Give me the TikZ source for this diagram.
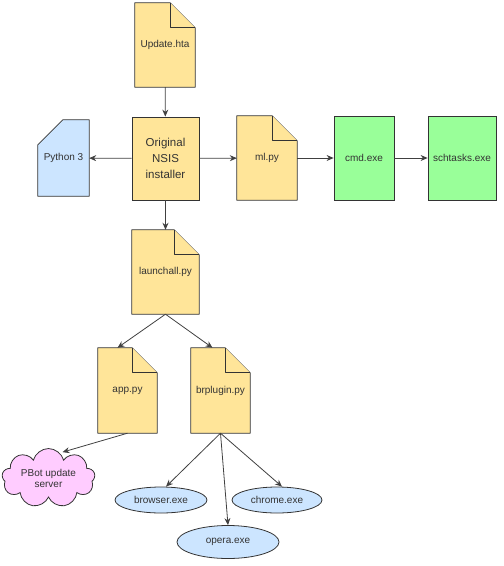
\documentclass[tikz,border=0pt]{standalone}
\usepackage{fontspec}
\setmainfont{Liberation Sans}
\usepackage{xcolor}
\usetikzlibrary{shapes.geometric,shapes.symbols,arrows.meta,calc,backgrounds}
\definecolor{docyellow}{HTML}{FFE599}
\definecolor{exegreen}{HTML}{99FF99}
\definecolor{pyblue}{HTML}{CCE5FF}
\definecolor{cloudpink}{HTML}{FFCCFF}
\definecolor{linegray}{HTML}{333333}

\begin{document}
\begin{tikzpicture}[x=1pt, y=1pt,
  doc/.style={rectangle, minimum width=60pt, minimum height=84pt, inner sep=1pt,
    font=\fontsize{10}{12}\selectfont, text=linegray},
  docline/.style={draw=linegray, fill=docyellow, line width=0.8pt, line join=round},
  box/.style={rectangle, draw=linegray, line width=0.8pt, minimum width=60pt, minimum height=84pt,
    inner sep=1pt, align=center, font=\fontsize{10}{12}\selectfont, text=linegray},
  proc/.style={ellipse, draw=linegray, fill=pyblue, line width=0.8pt, minimum width=92pt,
    minimum height=26pt, inner sep=1pt, font=\fontsize{10}{12}\selectfont, text=linegray},
  arr/.style={-{Stealth[length=7pt, width=6pt]}, draw=black!75, line width=0.8pt}]
\useasboundingbox (0,0) rectangle (504,-566);
% files
\node[doc] (upd) at (165,-45) {Update.hta};
\node[doc] (ml) at (267,-158) {ml.py};
\node[doc, minimum width=67pt] (launch) at (165.5,-272) {launchall.py};
\node[doc, minimum width=59pt, minimum height=85pt] (app) at (127.5,-390.5) {app.py};
\node[doc, minimum width=59pt, minimum height=85pt] (brp) at (220.5,-390.5) {brplugin.py};
\node[doc, minimum width=51pt, minimum height=76pt] (py3) at (63.5,-158) {Python 3};
% plain boxes
\node[box, fill=docyellow, minimum width=67pt, minimum height=83pt,
  font=\fontsize{11.5}{16}\selectfont] (nsis) at (165.5,-158.5) {Original\\NSIS\\installer};
\node[box, fill=exegreen] (cmd) at (364,-158) {cmd.exe};
\node[box, fill=exegreen, minimum width=68pt] (sch) at (462,-158) {schtasks.exe};
% server and processes
\node[cloud, cloud puffs=9, aspect=1.9, draw=linegray, fill=cloudpink, line width=0.8pt,
  minimum width=93pt, minimum height=52pt, inner sep=0pt, align=center,
  font=\fontsize{10}{11}\selectfont, text=linegray] (srv) at (48.5,-478) {PBot update\\server};
\node[proc] (browser) at (161,-500) {browser.exe};
\node[proc, minimum width=90pt] (chrome) at (277,-500) {chrome.exe};
\node[proc, minimum width=102pt, minimum height=33pt] (opera) at (228,-542) {opera.exe};

\begin{scope}[on background layer]
\foreach \n in {upd,ml,launch,app,brp}{
  \draw[docline] (\n.north west) -- ([xshift=-25pt]\n.north east) -- ([yshift=-25pt]\n.north east)
    -- (\n.south east) -- (\n.south west) -- cycle;
  \draw[docline] ([xshift=-25pt]\n.north east) -- ([xshift=-25pt, yshift=-25pt]\n.north east)
    -- ([yshift=-25pt]\n.north east);
}
\draw[docline, fill=pyblue] ([yshift=-25pt]py3.north west) -- ([xshift=25pt]py3.north west)
  -- (py3.north east) -- (py3.south east) -- (py3.south west) -- cycle;
\end{scope}

\draw[arr] (upd) -- (nsis);
\draw[arr] (nsis) -- (py3);
\draw[arr] (nsis) -- (ml);
\draw[arr] (ml) -- (cmd);
\draw[arr] (cmd) -- (sch);
\draw[arr] (nsis) -- (launch);
\draw[arr] (launch.south) -- ([xshift=-10pt]app.north);
\draw[arr] (launch.south) -- ([xshift=-8pt]brp.north);
\draw[arr] (app.south) -- ([xshift=14pt, yshift=-4pt]srv.north);
\draw[arr] (brp.south) -- ([xshift=5pt]browser.north);
\draw[arr] (brp.south) -- (opera.north);
\draw[arr] (brp.south) -- ([xshift=5pt]chrome.north);
\end{tikzpicture}
\end{document}
